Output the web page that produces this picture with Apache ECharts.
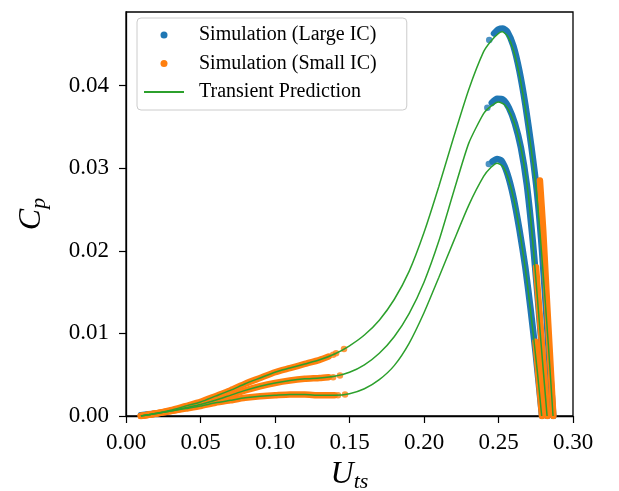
<!DOCTYPE html>
<html>
<head>
<meta charset="utf-8">
<script src="https://cdn.jsdelivr.net/npm/echarts@6/dist/echarts.min.js"></script>
<style>
  html, body { margin: 0; padding: 0; background: #fff; }
  #chart { width: 619px; height: 491px; }
</style>
</head>
<body>
<div id="chart"></div>
<script>
// tick labels
const xTicks = [0, 0.05, 0.10, 0.15, 0.20, 0.25, 0.30]
const yTicks = [0, 0.01, 0.02, 0.03, 0.04]

// transient prediction (green), three cases
const predHigh = [
  [0.010, 0.0000], [0.020, 0.0003], [0.030, 0.0007], [0.040, 0.0012], [0.050, 0.0017],
  [0.060, 0.0024], [0.070, 0.0031], [0.080, 0.0039], [0.090, 0.0046], [0.100, 0.0053],
  [0.110, 0.0058], [0.120, 0.0063], [0.130, 0.0068], [0.140, 0.0075], [0.150, 0.0085],
  [0.160, 0.0098], [0.170, 0.0116], [0.180, 0.0141], [0.190, 0.0175], [0.200, 0.0222],
  [0.210, 0.0278], [0.220, 0.0338], [0.230, 0.0395], [0.240, 0.0441], [0.245, 0.0454],
  [0.250, 0.0463], [0.2525, 0.0465], [0.256, 0.0460], [0.260, 0.0443], [0.264, 0.0413],
  [0.268, 0.0372], [0.272, 0.0322], [0.276, 0.0262], [0.280, 0.0172], [0.2835, 0.0085],
  [0.2866, 0.0000]
]
const predMid = [
  [0.010, 0.0000], [0.020, 0.0003], [0.030, 0.0006], [0.040, 0.0010], [0.050, 0.0014],
  [0.060, 0.0019], [0.070, 0.0025], [0.080, 0.0031], [0.090, 0.0036], [0.100, 0.0040],
  [0.110, 0.0043], [0.120, 0.0045], [0.130, 0.0046], [0.140, 0.0048], [0.150, 0.0053],
  [0.160, 0.0062], [0.170, 0.0076], [0.180, 0.0096], [0.190, 0.0124], [0.200, 0.0162],
  [0.210, 0.0212], [0.220, 0.0272], [0.230, 0.0330], [0.240, 0.0366], [0.245, 0.0375],
  [0.250, 0.0380], [0.254, 0.0377], [0.258, 0.0366], [0.262, 0.0347], [0.266, 0.0316],
  [0.270, 0.0268], [0.274, 0.0190], [0.278, 0.0100], [0.2826, 0.0000]
]
const predLow = [
  [0.010, 0.0000], [0.020, 0.0003], [0.030, 0.0006], [0.040, 0.0009], [0.050, 0.0012],
  [0.060, 0.0016], [0.070, 0.0019], [0.080, 0.0022], [0.090, 0.0024], [0.100, 0.0025],
  [0.110, 0.0026], [0.120, 0.0026], [0.130, 0.0025], [0.140, 0.0025], [0.150, 0.0027],
  [0.160, 0.0033], [0.170, 0.0044], [0.180, 0.0061], [0.190, 0.0088], [0.200, 0.0125],
  [0.210, 0.0168], [0.220, 0.0212], [0.230, 0.0255], [0.240, 0.0290], [0.245, 0.0301],
  [0.249, 0.0306], [0.253, 0.0302], [0.257, 0.0285], [0.261, 0.0256], [0.265, 0.0215],
  [0.269, 0.0165], [0.2725, 0.0112], [0.276, 0.0055], [0.279, 0.0000]
]

// simulation, large initial condition (blue)
const largeHigh = [
  [0.2470, 0.0463], [0.2500, 0.0468], [0.2530, 0.0469], [0.2560, 0.0465], [0.2600, 0.0448],
  [0.2640, 0.0418], [0.2680, 0.0377], [0.2720, 0.0327], [0.2760, 0.0268], [0.2790, 0.0205],
  [0.2815, 0.0140], [0.2842, 0.0065], [0.2868, 0.0000]
]
const largeMid = [
  [0.2455, 0.0379], [0.2490, 0.0384], [0.2530, 0.0383], [0.2570, 0.0373], [0.2610, 0.0354],
  [0.2650, 0.0325], [0.2690, 0.0280], [0.2730, 0.0212], [0.2760, 0.0150], [0.2790, 0.0085],
  [0.2828, 0.0000]
]
const largeLow = [
  [0.2460, 0.0308], [0.2490, 0.0311], [0.2520, 0.0309], [0.2560, 0.0293], [0.2600, 0.0265],
  [0.2640, 0.0226], [0.2680, 0.0180], [0.2715, 0.0130], [0.2750, 0.0075], [0.2792, 0.0000]
]
const largeStart = [[0.0100, 0.0001], [0.0150, 0.0002], [0.0200, 0.0003]]
const largeDots = [[0.2438, 0.0455], [0.2425, 0.0373], [0.2435, 0.0305]]

// simulation, small initial condition (orange)
const smallHigh = [
  [0.010, 0.0000], [0.020, 0.0003], [0.030, 0.0007], [0.040, 0.0012], [0.050, 0.0017],
  [0.060, 0.0024], [0.070, 0.0031], [0.080, 0.0039], [0.090, 0.0046], [0.100, 0.0053],
  [0.110, 0.0058], [0.120, 0.0063], [0.130, 0.0068], [0.136, 0.0072]
]
const smallMid = [
  [0.010, 0.0000], [0.020, 0.0003], [0.030, 0.0006], [0.040, 0.0010], [0.050, 0.0014],
  [0.060, 0.0019], [0.070, 0.0025], [0.080, 0.0031], [0.090, 0.0036], [0.100, 0.0040],
  [0.110, 0.0043], [0.120, 0.0045], [0.130, 0.0046], [0.136, 0.0047]
]
const smallLow = [
  [0.010, 0.0000], [0.020, 0.0003], [0.030, 0.0006], [0.040, 0.0009], [0.050, 0.0012],
  [0.060, 0.0016], [0.070, 0.0019], [0.080, 0.0022], [0.090, 0.0024], [0.100, 0.0025],
  [0.110, 0.0026], [0.120, 0.0026], [0.130, 0.0025], [0.140, 0.0025]
]
const smallFallHigh = [[0.2778, 0.0285], [0.2800, 0.0225], [0.2822, 0.0150], [0.2845, 0.0075], [0.2868, 0.0000]]
const smallFallMid = [[0.2752, 0.0180], [0.2775, 0.0125], [0.2800, 0.0065], [0.2828, 0.0000]]
const smallFallLow = [[0.2748, 0.0090], [0.2770, 0.0045], [0.2792, 0.0000]]
const smallDots = [
  [0.1390, 0.0074], [0.1410, 0.0076], [0.1463, 0.0081],
  [0.1390, 0.0047], [0.1436, 0.0049],
  [0.1423, 0.0025], [0.1470, 0.0026]
]

const BLUE = '#1f77b4'
const ORANGE = '#ff7f0e'
const GREEN = '#2ca02c'
const FONT = 'Liberation Serif'

let myChart = echarts.init(document.getElementById('chart'), null, { renderer: 'canvas' })

// thick band made of densely packed simulation points
function band(name, data, color, z) {
  return {
    name: name,
    type: 'line',
    data: data,
    smooth: 0.2,
    symbol: 'none',
    lineStyle: { color: color, width: 6.5, cap: 'round', join: 'round' },
    itemStyle: { color: color },
    z: z,
    silent: true
  }
}
function dots(name, data, color, z) {
  return {
    name: name,
    type: 'scatter',
    data: data,
    symbolSize: 6.5,
    itemStyle: { color: color },
    z: z,
    silent: true
  }
}
function pred(data) {
  return {
    name: 'Transient Prediction',
    type: 'line',
    data: data,
    smooth: 0.2,
    symbol: 'none',
    lineStyle: { color: GREEN, width: 1.5 },
    itemStyle: { color: GREEN },
    z: 5,
    silent: true
  }
}

const L = 'Simulation (Large IC)'
const S = 'Simulation (Small IC)'

let option = {
  backgroundColor: '#fff',
  animation: false,
  grid: {
    left: 126, right: 46, top: 12, bottom: 75,
    outerBoundsMode: 'none',
    containLabel: false,
    show: true, borderColor: '#000', borderWidth: 1.3, backgroundColor: 'transparent'
  },
  legend: {
    orient: 'vertical',
    left: 137, top: 18,
    padding: [7, 30, 8, 6],
    itemWidth: 40, itemHeight: 7, itemGap: 8.5,
    backgroundColor: 'rgba(255,255,255,0.8)',
    borderColor: '#cccccc', borderWidth: 1, borderRadius: 4,
    textStyle: { fontFamily: FONT, fontSize: 20, lineHeight: 20, color: '#000', padding: [0, 0, 0, 10] },
    data: [
      { name: L, icon: 'circle' },
      { name: S, icon: 'circle' },
      { name: 'Transient Prediction', itemStyle: { opacity: 0 } }
    ]
  },
  xAxis: {
    type: 'value',
    min: 0, max: 0.3, interval: 0.05,
    name: '{u|U}{s|ts}',
    nameLocation: 'middle',
    nameGap: 41,
    nameTextStyle: {
      rich: {
        u: { fontFamily: FONT, fontStyle: 'italic', fontSize: 32, lineHeight: 36, color: '#000' },
        s: { fontFamily: FONT, fontStyle: 'italic', fontSize: 22, lineHeight: 20, color: '#000', verticalAlign: 'bottom' }
      }
    },
    axisLine: { lineStyle: { color: '#000', width: 1.3 } },
    axisTick: { length: 7, lineStyle: { color: '#000', width: 1.2 } },
    axisLabel: {
      margin: 15, color: '#000', fontFamily: FONT, fontSize: 23,
      formatter: v => v.toFixed(2)
    },
    splitLine: { show: false }
  },
  yAxis: {
    type: 'value',
    min: 0, max: 0.0489, interval: 0.01,
    name: '{u|C}{s|p}',
    nameLocation: 'middle',
    nameRotate: 90,
    nameGap: 76,
    nameTextStyle: {
      rich: {
        u: { fontFamily: FONT, fontStyle: 'italic', fontSize: 32, lineHeight: 36, color: '#000' },
        s: { fontFamily: FONT, fontStyle: 'italic', fontSize: 22, lineHeight: 20, color: '#000', verticalAlign: 'bottom' }
      }
    },
    axisLine: { show: true, lineStyle: { color: '#000', width: 1.3 } },
    axisTick: { length: 7, customValues: yTicks, lineStyle: { color: '#000', width: 1.2 } },
    axisLabel: {
      margin: 17, color: '#000', fontFamily: FONT, fontSize: 23,
      customValues: yTicks,
      formatter: v => v.toFixed(2)
    },
    splitLine: { show: false }
  },
  series: [
    band(L, largeStart, BLUE, 2),
    band(L, largeHigh, BLUE, 2),
    band(L, largeMid, BLUE, 2),
    band(L, largeLow, BLUE, 2),
    dots(L, largeDots, BLUE, 2),
    band(S, smallHigh, ORANGE, 3),
    band(S, smallMid, ORANGE, 3),
    band(S, smallLow, ORANGE, 3),
    band(S, smallFallHigh, ORANGE, 3),
    band(S, smallFallMid, ORANGE, 3),
    band(S, smallFallLow, ORANGE, 3),
    dots(S, smallDots, ORANGE, 3),
    pred(predHigh),
    pred(predMid),
    pred(predLow)
  ]
}
myChart.setOption(option)
</script>
</body>
</html>
